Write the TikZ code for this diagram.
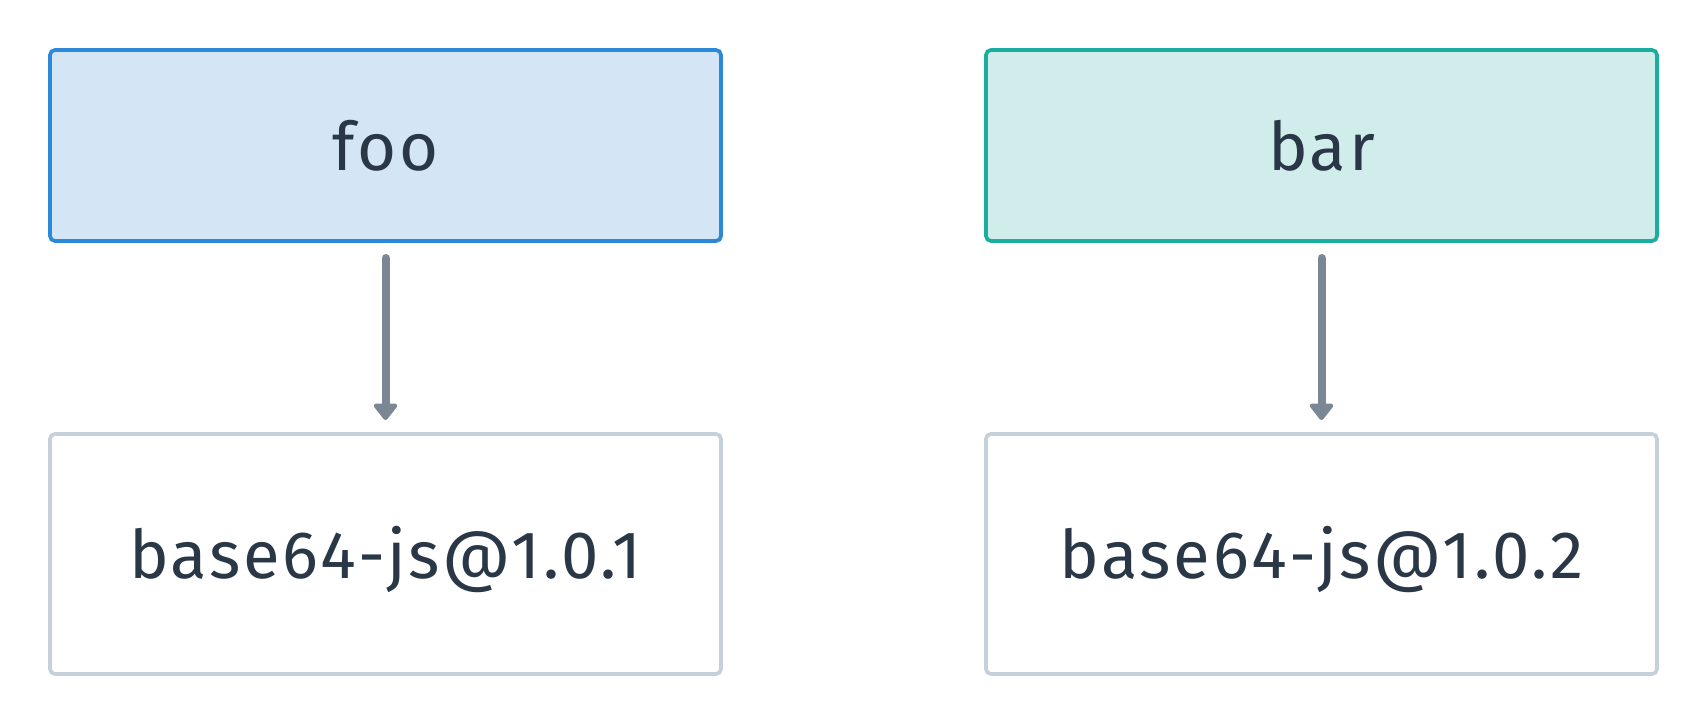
\documentclass[tikz,border=0pt]{standalone}
\usepackage{fontspec}
\setmainfont[LetterSpace=4]{Fira Sans}
\usetikzlibrary{arrows.meta}
\definecolor{txtcol}{RGB}{41,55,70}
\definecolor{fooline}{RGB}{44,136,217}
\definecolor{foofill}{RGB}{212,230,246}
\definecolor{barline}{RGB}{26,174,159}
\definecolor{barfill}{RGB}{209,237,235}
\definecolor{depline}{RGB}{197,208,218}
\definecolor{arrcol}{RGB}{123,135,148}
\begin{document}
\begin{tikzpicture}[x=1pt, y=-1pt,
                    pnode/.style = {shape = rectangle,
                                    rounded corners = 5pt,
                                    line width = 3.7pt,
                                    outer sep = 0pt,
                                    minimum width = 671pt,
                                    minimum height = 191pt,
                                    text height = 49pt,
                                    text depth = 0pt,
                                    text = txtcol,
                                    font = \fontsize{67pt}{80pt}\selectfont,
                                    draw},
                    dnode/.style = {pnode,
                                    draw = depline,
                                    fill = white,
                                    minimum height = 240pt},
                    dep/.style = {draw = arrcol,
                                  line width = 8pt,
                                  line cap = round,
                                  shorten <= 17pt,
                                  shorten >= 14pt,
                                  -{Triangle[width=27pt,length=18pt,round]}}]
		\useasboundingbox (0,0) rectangle (1708,724);
		\node[pnode, draw = fooline, fill = foofill] (foo) at (385.5,145.5) {foo};
		\node[pnode, draw = barline, fill = barfill] (bar) at (1321.5,145.5) {bar};
		\node[dnode] (b64a) at (385.5,554) {base64-js@1.0.1};
		\node[dnode] (b64b) at (1321.5,554) {base64-js@1.0.2};
		\draw[dep] (foo) -- (b64a);
		\draw[dep] (bar) -- (b64b);
	\end{tikzpicture}
\end{document}
